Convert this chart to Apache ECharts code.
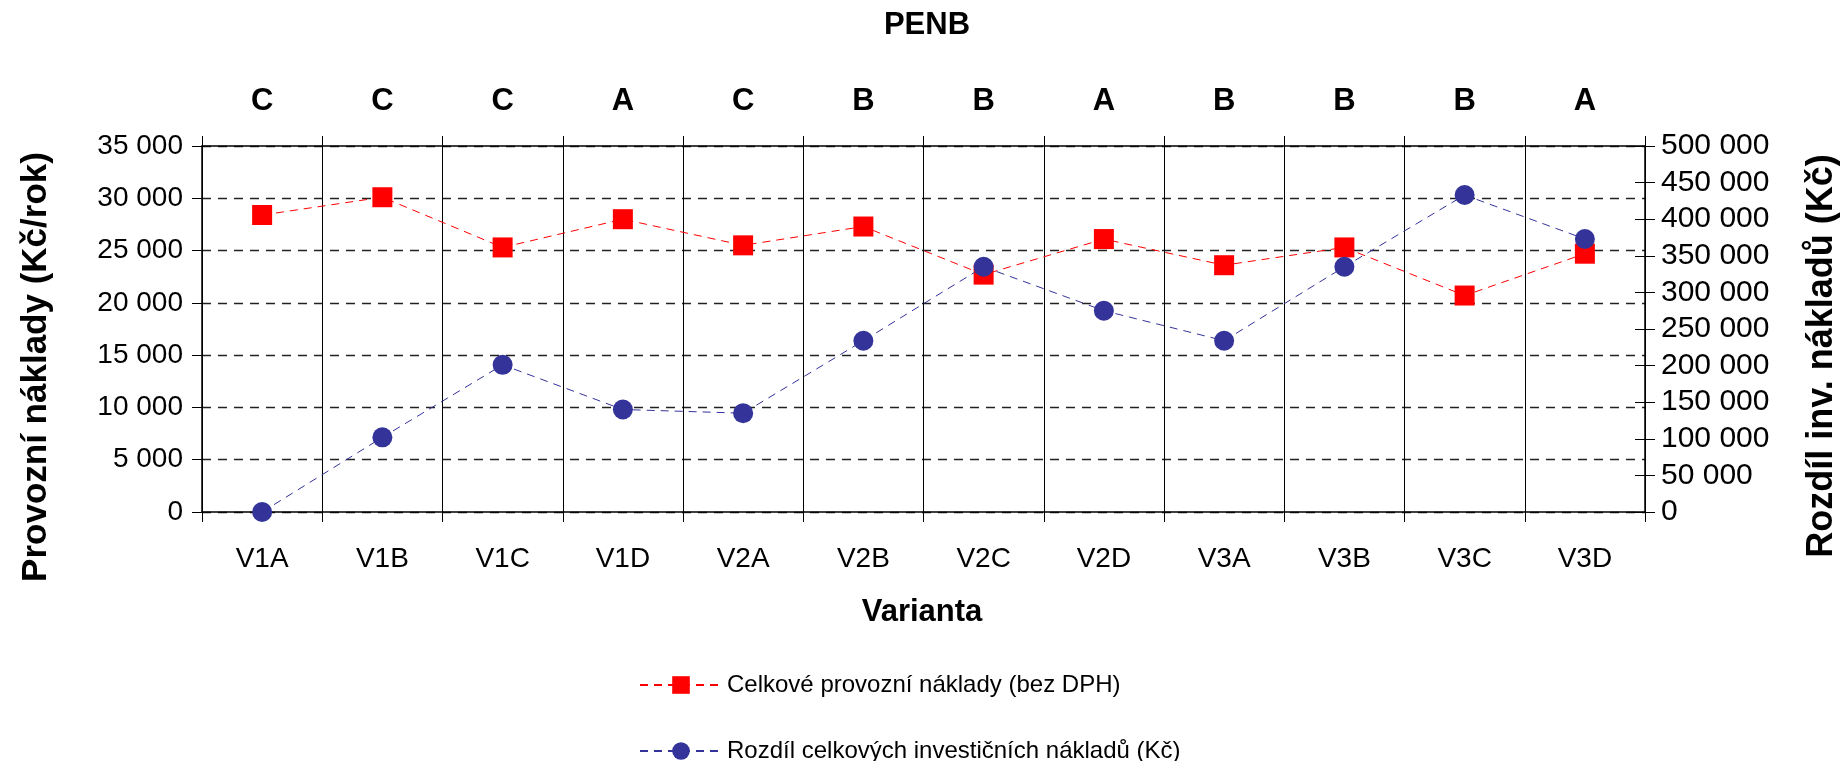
<!DOCTYPE html>
<html>
<head>
<meta charset="utf-8">
<script src="https://cdn.jsdelivr.net/npm/echarts@6/dist/echarts.min.js"></script>
<style>
html,body{margin:0;padding:0;background:#fff;}
#chart{width:1847px;height:761px;}
</style>
</head>
<body>
<div id="chart"></div>
<script>
const categories = ['V1A','V1B','V1C','V1D','V2A','V2B','V2C','V2D','V3A','V3B','V3C','V3D'];
const energyClasses = ['C','C','C','A','C','B','B','A','B','B','B','A'];
const operatingCosts = [28400, 30100, 25300, 28000, 25500, 27300, 22700, 26100, 23600, 25300, 20700, 24700];
const investmentDiff = [0, 102000, 201000, 140000, 135000, 234000, 335000, 275000, 234000, 335000, 433000, 373000];
const seriesNames = ['Celkové provozní náklady (bez DPH)', 'Rozdíl celkových investičních nákladů (Kč)'];
const titleText = 'PENB';
const xName = 'Varianta';
const leftName = 'Provozní náklady (Kč/rok)';
const rightName = 'Rozdíl inv. nákladů (Kč)';

const FONT = "'Liberation Sans', Arial, sans-serif";
const fmt = v => String(v).replace(/\B(?=(\d{3})+(?!\d))/g, ' ');

const chart = echarts.init(document.getElementById('chart'), null, {renderer: 'canvas'});
const legendCommon = {
  orient: 'horizontal', left: 634, itemWidth: 82, itemHeight: 22, itemGap: 10,
  textStyle: {fontFamily: FONT, fontSize: 24, color: '#000'}
};
const option = {
  backgroundColor: '#ffffff',
  animation: false,
  textStyle: {fontFamily: FONT},
  title: {
    text: titleText, left: 922, top: 5, textAlign: 'center',
    textStyle: {fontFamily: FONT, fontSize: 31, fontWeight: 'bold', color: '#000'}
  },
  grid: {left: 202, right: 202, top: 146, bottom: 249, containLabel: false},
  legend: [
    Object.assign({}, legendCommon, {top: 668, data: [seriesNames[0]]}),
    Object.assign({}, legendCommon, {top: 734, data: [seriesNames[1]]})
  ],
  xAxis: [{
    type: 'category', data: categories, position: 'bottom', boundaryGap: true,
    axisLine: {show: true, onZero: false, lineStyle: {color: '#000', width: 1.5}},
    axisTick: {show: true, interval: 0, length: 10, lineStyle: {color: '#000', width: 1}},
    axisLabel: {interval: 0, margin: 33, fontFamily: FONT, fontSize: 28, color: '#000'},
    splitLine: {show: true, interval: 0, lineStyle: {color: '#000', width: 1}}
  }, {
    type: 'category', data: energyClasses, position: 'top', boundaryGap: true,
    axisLine: {show: true, onZero: false, lineStyle: {color: '#000', width: 1.5}},
    axisTick: {show: true, interval: 0, length: 10, lineStyle: {color: '#000', width: 1}},
    axisLabel: {interval: 0, margin: 29, fontFamily: FONT, fontSize: 31, fontWeight: 'bold', color: '#000'},
    splitLine: {show: false}
  }],
  yAxis: [{
    type: 'value', position: 'left', min: 0, max: 35000, interval: 5000,
    axisLine: {show: true, lineStyle: {color: '#000', width: 1.5}},
    axisTick: {show: true, length: 10, lineStyle: {color: '#000', width: 1}},
    axisLabel: {margin: 19, fontFamily: FONT, fontSize: 28, color: '#000', formatter: fmt},
    splitLine: {show: true, lineStyle: {color: '#222', width: 1.3, type: [9, 7]}}
  }, {
    type: 'value', position: 'right', min: 0, max: 500000, interval: 50000,
    axisLine: {show: true, lineStyle: {color: '#000', width: 1.5}},
    axisTick: {show: true, length: 10, lineStyle: {color: '#000', width: 1}},
    axisLabel: {margin: 16, fontFamily: FONT, fontSize: 30, color: '#000', formatter: fmt},
    splitLine: {show: false}
  }, {
    type: 'value', position: 'right', min: 0, max: 500000, interval: 50000,
    axisLine: {show: false},
    axisTick: {show: true, inside: true, length: 10, lineStyle: {color: '#000', width: 1}},
    axisLabel: {show: false},
    splitLine: {show: false}
  }],
  graphic: [{
    type: 'text', x: 36, y: 367, rotation: Math.PI / 2,
    style: {text: leftName, fontFamily: FONT, fontSize: 35, fontWeight: 'bold', fill: '#000', align: 'center', verticalAlign: 'middle'}
  }, {
    type: 'text', x: 1822, y: 356, rotation: Math.PI / 2,
    style: {text: rightName, fontFamily: FONT, fontSize: 36, fontWeight: 'bold', fill: '#000', align: 'center', verticalAlign: 'middle'}
  }, {
    type: 'text', x: 922, y: 612,
    style: {text: xName, fontFamily: FONT, fontSize: 31, fontWeight: 'bold', fill: '#000', align: 'center', verticalAlign: 'middle'}
  }],
  series: [{
    name: seriesNames[0], type: 'line', xAxisIndex: 0, yAxisIndex: 0, data: operatingCosts,
    symbol: 'rect', symbolSize: 20,
    itemStyle: {color: '#ff0000'},
    lineStyle: {color: '#ff0000', width: 1, type: [8, 6]},
    z: 3
  }, {
    name: seriesNames[1], type: 'line', xAxisIndex: 0, yAxisIndex: 1, data: investmentDiff,
    symbol: 'circle', symbolSize: 20,
    itemStyle: {color: '#333399'},
    lineStyle: {color: '#333399', width: 1, type: [8, 6]},
    z: 4
  }]
};
chart.setOption(option);
</script>
</body>
</html>
